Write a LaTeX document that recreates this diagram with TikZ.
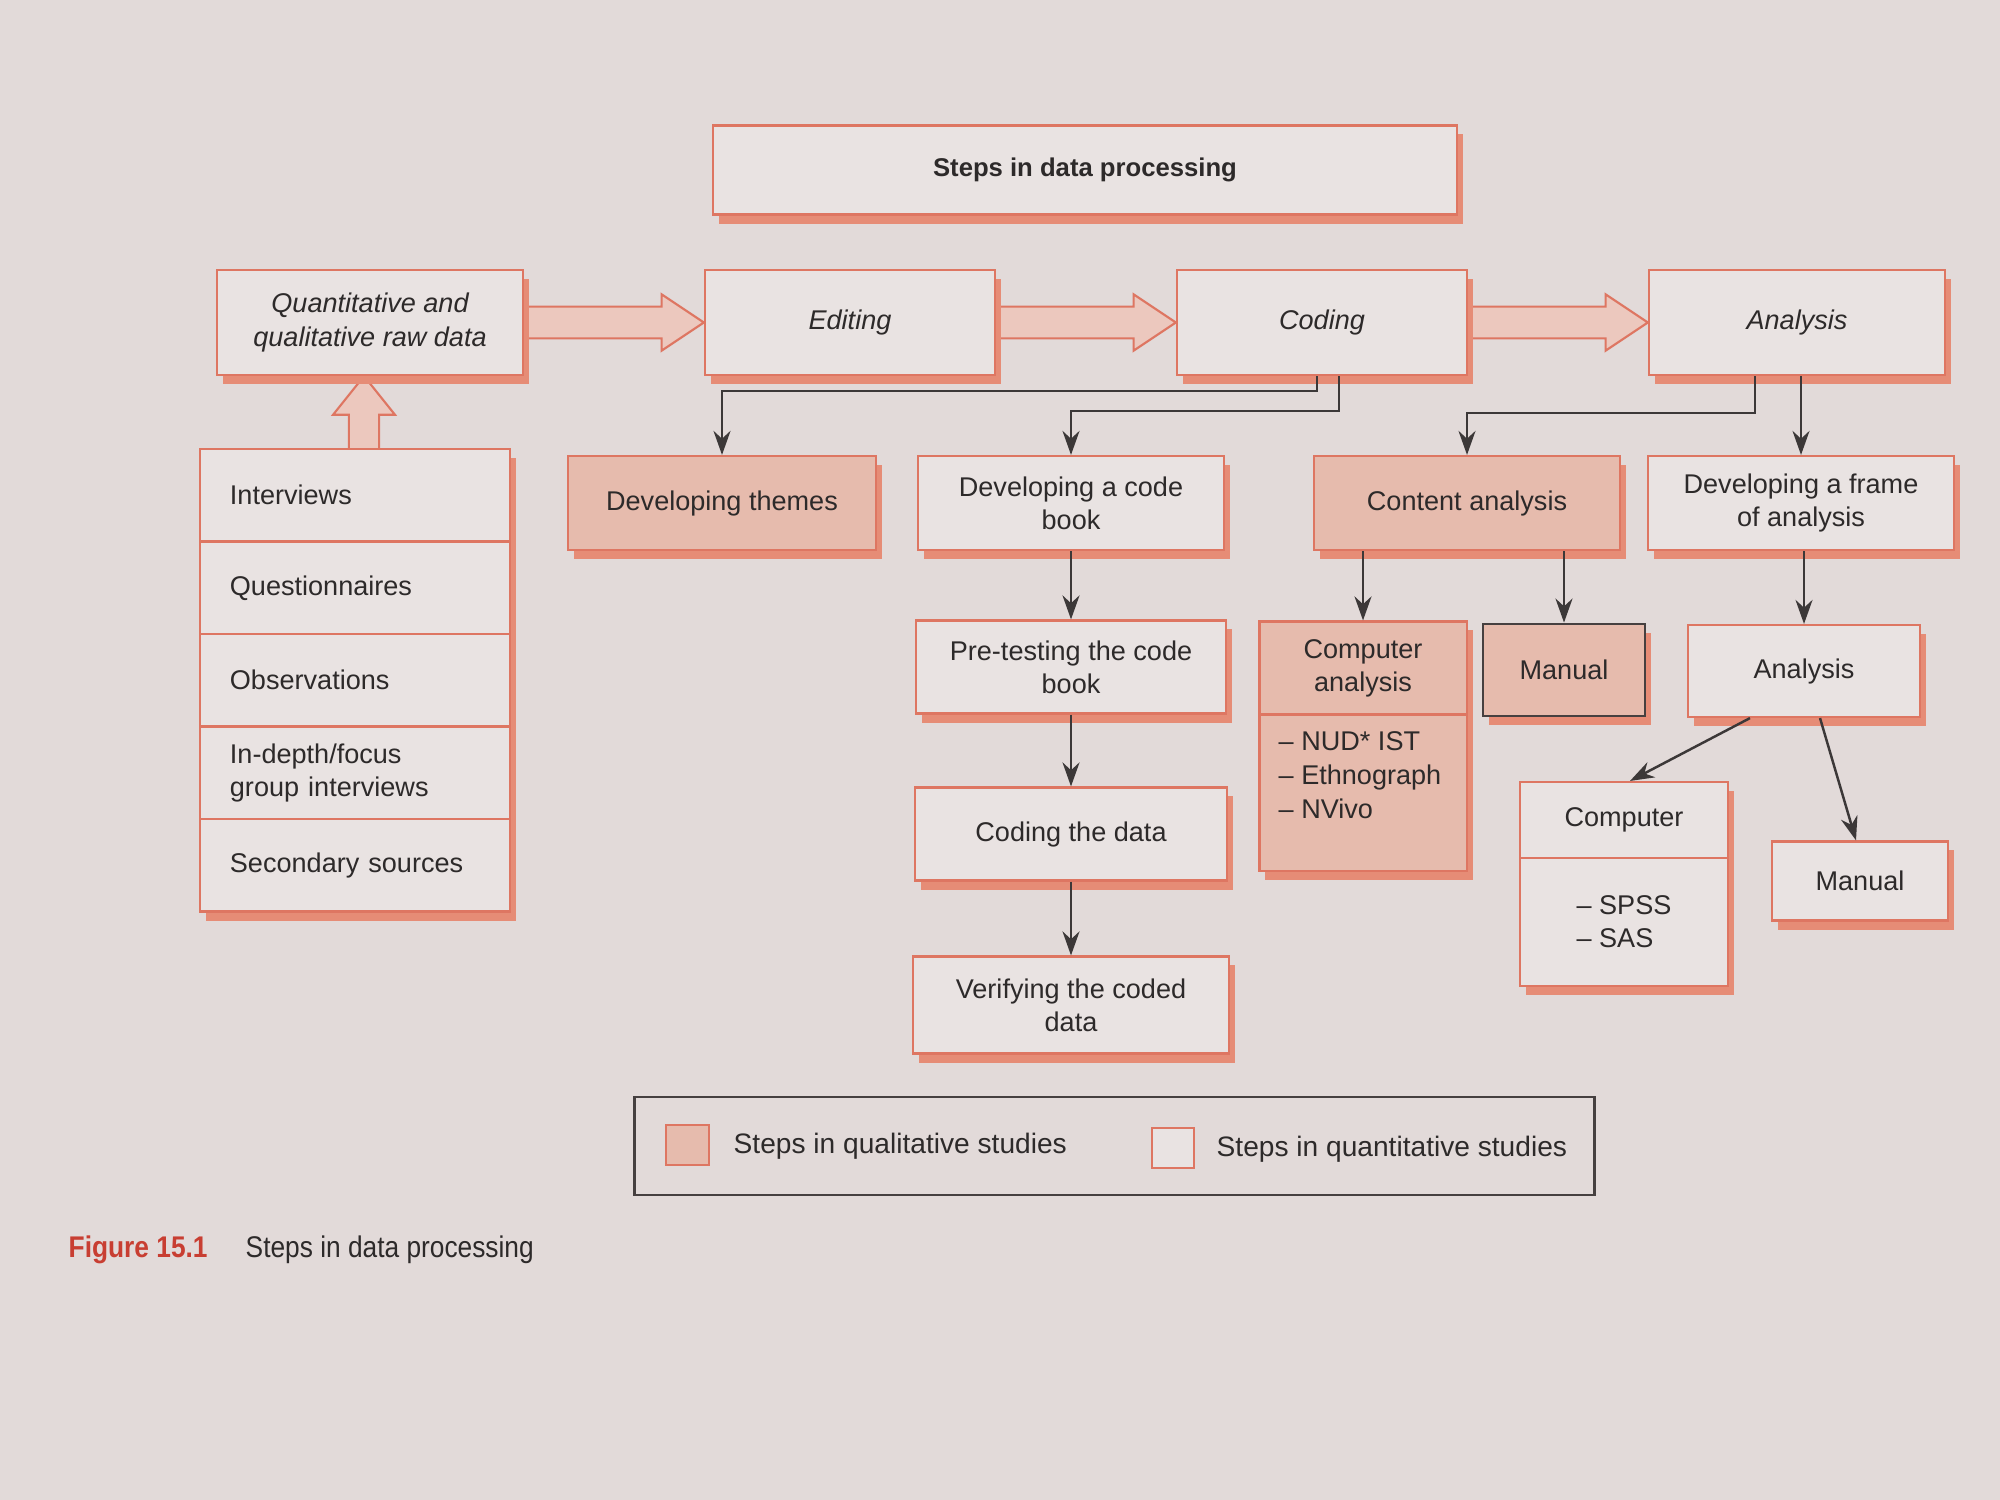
\documentclass[tikz,border=0pt]{standalone}
\usepackage{fontspec}
\setmainfont{Liberation Sans}
\newfontfamily\capfont[FakeStretch=0.88]{Liberation Sans}
\usetikzlibrary{shadows,calc,arrows.meta}
\definecolor{pagebg}{RGB}{226,218,217}
\definecolor{boxline}{RGB}{222,118,98}
\definecolor{shadowc}{RGB}{230,140,118}
\definecolor{quantfill}{RGB}{233,227,226}
\definecolor{qualfill}{RGB}{230,187,173}
\definecolor{arrowfill}{RGB}{236,200,190}
\definecolor{txt}{RGB}{45,42,42}
\definecolor{linec}{RGB}{60,56,56}
\definecolor{darkline}{RGB}{70,64,64}
\definecolor{figred}{RGB}{200,62,50}
\pgfdeclarelayer{bg}
\pgfdeclarelayer{arr}
\pgfsetlayers{bg,arr,main}
\newcommand\blockarrowh[2]{%
  \path[bigarr] let \p1=(#1.east), \p2=(#2.west) in
  (\x1,\y1+4.5pt) -- (\x2-12pt,\y1+4.5pt) -- (\x2-12pt,\y1+8pt) -- (\x2,\y1)
  -- (\x2-12pt,\y1-8pt) -- (\x2-12pt,\y1-4.5pt) -- (\x1,\y1-4.5pt);}
\begin{document}
\begin{tikzpicture}[x=0.01cm,y=-0.01cm,
  qbox/.style={draw=boxline, line width=0.6pt, fill=quantfill, text=txt, align=center,
    font=\fontsize{7.7}{9.4}\selectfont, inner sep=1pt,
    drop shadow={shadow xshift=0.06cm, shadow yshift=-0.09cm, fill=shadowc, opacity=1}},
  qlbox/.style={qbox, fill=qualfill},
  itbox/.style={qbox, font=\fontsize{7.7}{9.4}\selectfont\itshape},
  srcrow/.style={qbox, minimum width=3.1cm, minimum height=0.925cm, text width=2.5cm,
    inner xsep=0.3cm, align=left},
  conn/.style={draw=linec, line width=0.7pt, -{Stealth[length=2.4mm,width=1.7mm]}},
  bigarr/.style={draw=boxline, line width=0.6pt, fill=arrowfill},
  plain/.style={inner sep=0pt, text=txt, font=\fontsize{7.7}{9.6}\selectfont}]
\begin{pgfonlayer}{bg}
\fill[pagebg] (0,0) rectangle (2000,1500);
\end{pgfonlayer}
\useasboundingbox (0,0) rectangle (2000,1500);

% title
\node[qbox, minimum width=7.43cm, minimum height=0.89cm, font=\fontsize{7.3}{9}\selectfont\bfseries] (title) at (1085,170) {Steps in data processing};

% top row
\node[itbox, minimum width=3.06cm, minimum height=1.05cm] (raw) at (370,322.5) {Quantitative and\\qualitative raw data};
\node[itbox, minimum width=2.90cm, minimum height=1.05cm] (editing) at (850,322.5) {Editing};
\node[itbox, minimum width=2.90cm, minimum height=1.05cm] (coding) at (1322,322.5) {Coding};
\node[itbox, minimum width=2.96cm, minimum height=1.05cm] (analysis) at (1797,322.5) {Analysis};

% sources
\node[srcrow] (src1) at (355,495.25) {Interviews};
\node[srcrow] (src2) at (355,587.75) {Questionnaires};
\node[srcrow] (src3) at (355,680.25) {Observations};
\node[srcrow] (src4) at (355,772.75) {In-depth/focus\\group interviews};
\node[srcrow] (src5) at (355,865.25) {Secondary sources};

% second row
\node[qlbox, minimum width=3.08cm, minimum height=0.94cm] (devthemes) at (722,503) {Developing themes};
\node[qbox, minimum width=3.06cm, minimum height=0.94cm] (codebook) at (1071,503) {Developing a code\\book};
\node[qlbox, minimum width=3.06cm, minimum height=0.94cm] (content) at (1467,503) {Content analysis};
\node[qbox, minimum width=3.06cm, minimum height=0.94cm] (frame) at (1801,503) {Developing a frame\\of analysis};

% code book column
\node[qbox, minimum width=3.10cm, minimum height=0.93cm] (pretest) at (1071,667) {Pre-testing the code\\book};
\node[qbox, minimum width=3.12cm, minimum height=0.93cm] (codingdata) at (1071,834) {Coding the data};
\node[qbox, minimum width=3.15cm, minimum height=0.97cm] (verify) at (1071,1005) {Verifying the coded\\data};

% content analysis branch
\node[qlbox, minimum width=2.07cm, minimum height=0.93cm] (compa) at (1363,668) {Computer\\analysis};
\node[qlbox, minimum width=2.07cm, minimum height=1.565cm] (compalist) at (1363,792.75) {};
\node[plain, anchor=north, align=left] (compatext) at (1360,731) {– NUD* IST\\– Ethnograph\\– NVivo};
\node[qlbox, draw=darkline, line width=0.8pt, minimum width=1.62cm, minimum height=0.92cm] (manuala) at (1564,670) {Manual};

% frame branch
\node[qbox, minimum width=2.32cm, minimum height=0.92cm] (analysisb) at (1804,671) {Analysis};
\node[qbox, minimum width=2.08cm, minimum height=0.76cm] (comp) at (1624,820) {Computer};
\node[qbox, minimum width=2.08cm, minimum height=1.28cm, align=left] (complist) at (1624,922) {– SPSS\\– SAS};
\node[qbox, minimum width=1.76cm, minimum height=0.79cm] (manualb) at (1860,881) {Manual};

% block arrows
\begin{pgfonlayer}{arr}
\blockarrowh{raw}{editing}
\blockarrowh{editing}{coding}
\blockarrowh{coding}{analysis}
\path[bigarr] let \p1=(raw.south), \p2=(src1.north) in
  (\x1-6.0pt,\y2) -- (\x1-6.0pt,\y1-11pt) -- (\x1-10.5pt,\y1-11pt) -- (\x1-1.7pt,\y1)
  -- (\x1+7.1pt,\y1-11pt) -- (\x1+2.6pt,\y1-11pt) -- (\x1+2.6pt,\y2);
\end{pgfonlayer}

% connectors
\draw[conn] ([xshift=-0.05cm]coding.south) |- ([yshift=0.64cm]devthemes.north) -- (devthemes.north);
\draw[conn] ([xshift=0.17cm]coding.south) |- ([yshift=0.44cm]codebook.north) -- (codebook.north);
\draw[conn] ([xshift=-0.42cm]analysis.south) |- ([yshift=0.42cm]content.north) -- (content.north);
\draw[conn] (frame.north |- analysis.south) -- (frame.north);
\draw[conn] (codebook) -- (pretest);
\draw[conn] (pretest) -- (codingdata);
\draw[conn] (codingdata) -- (verify);
\draw[conn] (compa.north |- content.south) -- (compa.north);
\draw[conn] (manuala.north |- content.south) -- (manuala.north);
\draw[conn] (analysisb.north |- frame.south) -- (analysisb.north);
\draw[conn] ([xshift=-0.54cm]analysisb.south) -- ([xshift=0.06cm]comp.north);
\draw[conn] ([xshift=0.16cm]analysisb.south) -- ([xshift=-0.04cm]manualb.north);

% legend
\node[draw=darkline, line width=0.8pt, minimum width=9.59cm, minimum height=0.98cm, inner sep=0pt] (legend) at (1114.5,1146) {};
\node[draw=boxline, line width=0.6pt, fill=qualfill, minimum width=0.43cm, minimum height=0.40cm, inner sep=0pt] (swql) at (687.5,1145) {};
\node[plain, anchor=west, font=\fontsize{8}{10}\selectfont] (lgql) at (733,1146) {Steps in qualitative studies};
\node[draw=boxline, line width=0.6pt, fill=quantfill, minimum width=0.42cm, minimum height=0.40cm, inner sep=0pt] (swqt) at (1173,1148) {};
\node[plain, anchor=west, font=\fontsize{8}{10}\selectfont] (lgqt) at (1216,1149) {Steps in quantitative studies};

% caption
\node[anchor=west, inner sep=0pt, text=figred, font=\capfont\bfseries\fontsize{8.5}{10}\selectfont] (figlab) at (68,1250) {Figure 15.1};
\node[anchor=west, inner sep=0pt, text=txt, font=\capfont\fontsize{8.5}{10}\selectfont] (figcap) at (245,1250) {Steps in data processing};
\end{tikzpicture}
\end{document}
